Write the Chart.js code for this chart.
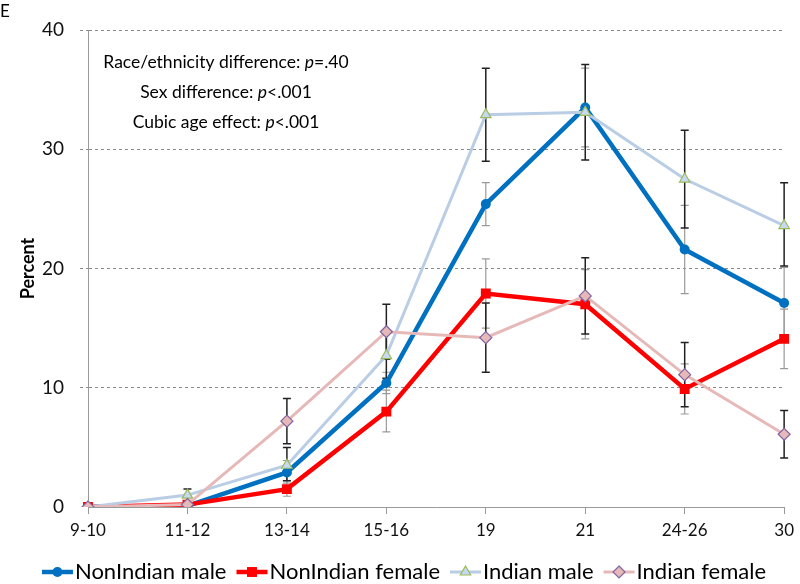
<!DOCTYPE html>
<html>
<head>
<meta charset="utf-8">
<script src="https://cdn.jsdelivr.net/npm/chart.js@4.4.1/dist/chart.umd.min.js"></script>
<style>
  body { margin: 0; background: #fff; }
  canvas { display: block; }
</style>
</head>
<body>
<canvas id="chart" width="800" height="584"></canvas>
<script>
// data
const ageGroups = ['9-10', '11-12', '13-14', '15-16', '19', '21', '24-26', '30'];
const yTicks = [0, 10, 20, 30, 40];

const nonIndianMale   = [0, 0.1, 2.9, 10.4, 25.4, 33.5, 21.6, 17.1];
const nonIndianFemale = [0, 0.2, 1.5, 8.0, 17.9, 17.0, 9.9, 14.1];
const indianMale      = [0, 1.0, 3.5, 12.7, 32.9, 33.1, 27.5, 23.6];
const indianFemale    = [0, 0.2, 7.2, 14.7, 14.2, 17.7, 11.1, 6.1];

// error bars, [low, high] per age group
const nonIndianMaleErr   = [null, null, [2.0, 3.9], [9.5, 11.3], [23.6, 27.2], [30.2, 36.8], [17.9, 25.3], [14.1, 20.1]];
const nonIndianFemaleErr = [null, null, [0.9, 2.2], [6.3, 9.8], [15.0, 20.8], [14.1, 19.9], [7.8, 12.0], [11.6, 16.6]];
const indianMaleErr      = [null, [0.4, 1.5], [2.2, 5.0], [10.8, 14.7], [29.0, 36.8], [29.1, 37.1], [23.4, 31.6], [20.2, 27.2]];
const indianFemaleErr    = [null, null, [5.3, 9.1], [12.4, 17.0], [11.3, 17.1], [14.5, 20.9], [8.4, 13.8], [4.1, 8.1]];

const statLines = [
    ['Race/ethnicity difference: ', 'p', '=.40'],
    ['Sex difference: ', 'p', '<.001'],
    ['Cubic age effect: ', 'p', '<.001'],
];

const FONT = 'Lato, "Open Sans", sans-serif';

// error bars under the lines
const errorBars = {
    id: 'errorBars',
    beforeDatasetsDraw(chart) {
        const ctx = chart.ctx;
        const y = chart.scales.y;
        chart.data.datasets.forEach((ds, i) => {
            const meta = chart.getDatasetMeta(i);
            ctx.save();
            ctx.strokeStyle = ds.errColor;
            ctx.lineWidth = ds.errWidth;
            ds.errors.forEach((e, j) => {
                if (!e) return;
                const x = meta.data[j].x;
                const y1 = y.getPixelForValue(e[0]);
                const y2 = y.getPixelForValue(e[1]);
                ctx.beginPath();
                ctx.moveTo(x, y1); ctx.lineTo(x, y2);
                ctx.moveTo(x - 4, y1); ctx.lineTo(x + 4, y1);
                ctx.moveTo(x - 4, y2); ctx.lineTo(x + 4, y2);
                ctx.stroke();
            });
            ctx.restore();
        });
    }
};

function drawMarker(ctx, style, x, y, r, fill, stroke, bw) {
    ctx.save();
    ctx.fillStyle = fill;
    ctx.strokeStyle = stroke;
    ctx.lineWidth = bw;
    ctx.beginPath();
    if (style === 'circle') {
        ctx.arc(x, y, r, 0, Math.PI * 2);
    } else if (style === 'rect') {
        ctx.rect(x - r * 0.71, y - r * 0.71, r * 1.42, r * 1.42);
    } else if (style === 'triangle') {
        ctx.moveTo(x, y - r);
        ctx.lineTo(x + r * 0.87, y + r * 0.5);
        ctx.lineTo(x - r * 0.87, y + r * 0.5);
        ctx.closePath();
    } else {
        ctx.moveTo(x, y - r); ctx.lineTo(x + r, y);
        ctx.lineTo(x, y + r); ctx.lineTo(x - r, y);
        ctx.closePath();
    }
    ctx.fill();
    if (bw) ctx.stroke();
    ctx.restore();
}

// panel letter, stats text and legend
const extras = {
    id: 'extras',
    afterDraw(chart) {
        const ctx = chart.ctx;
        ctx.save();
        ctx.fillStyle = '#000';
        ctx.textBaseline = 'middle';
        ctx.font = '17px ' + FONT;
        ctx.fillText('E', 0, 12);

        // stats, centered
        const cx = 226;
        const fs = '17.5px ';
        statLines.forEach((parts, k) => {
            const yy = 62 + k * 30;
            ctx.font = fs + FONT;
            const w0 = ctx.measureText(parts[0]).width;
            const w2 = ctx.measureText(parts[2]).width;
            ctx.font = 'italic ' + fs + FONT;
            const w1 = ctx.measureText(parts[1]).width;
            let x = cx - (w0 + w1 + w2) / 2;
            ctx.font = fs + FONT;
            ctx.fillText(parts[0], x, yy); x += w0;
            ctx.font = 'italic ' + fs + FONT;
            ctx.fillText(parts[1], x, yy); x += w1;
            ctx.font = fs + FONT;
            ctx.fillText(parts[2], x, yy);
        });

        // legend
        ctx.font = '22px ' + FONT;
        const ly = 572;
        const seg = 31, gap = 2, itemGap = 10;
        const dss = chart.data.datasets;
        const widths = dss.map(ds => seg + gap + ctx.measureText(ds.label).width);
        const total = widths.reduce((a, b) => a + b, 0) + itemGap * (dss.length - 1);
        let x = 404 - total / 2;
        dss.forEach((ds, i) => {
            ctx.save();
            ctx.strokeStyle = ds.borderColor;
            ctx.lineWidth = ds.borderWidth;
            ctx.beginPath();
            ctx.moveTo(x, ly); ctx.lineTo(x + seg, ly);
            ctx.stroke();
            ctx.restore();
            drawMarker(ctx, ds.pointStyle, x + seg / 2, ly, ds.pointRadius,
                ds.pointBackgroundColor, ds.pointBorderColor, ds.pointBorderWidth);
            ctx.fillStyle = '#000';
            ctx.fillText(ds.label, x + seg + gap, ly);
            x += widths[i] + itemGap;
        });
        ctx.restore();
    }
};

const ctx = document.getElementById('chart').getContext('2d');

const data = {
    labels: ageGroups,
    datasets: [
        {
            label: 'NonIndian male',
            data: nonIndianMale,
            errors: nonIndianMaleErr,
            errColor: '#9a9a9a',
            errWidth: 1.2,
            borderColor: '#0070C0',
            borderWidth: 4.5,
            pointStyle: 'circle',
            pointRadius: 5,
            pointBackgroundColor: '#0070C0',
            pointBorderColor: '#0070C0',
            pointBorderWidth: 0,
            order: 4,
        },
        {
            label: 'NonIndian female',
            data: nonIndianFemale,
            errors: nonIndianFemaleErr,
            errColor: '#9a9a9a',
            errWidth: 1.2,
            borderColor: '#FF0000',
            borderWidth: 4.5,
            pointStyle: 'rect',
            pointRadius: 7,
            pointBackgroundColor: '#FF0000',
            pointBorderColor: '#FF0000',
            pointBorderWidth: 0,
            order: 3,
        },
        {
            label: 'Indian male',
            data: indianMale,
            errors: indianMaleErr,
            errColor: '#222',
            errWidth: 1.5,
            borderColor: '#B9CDE5',
            borderWidth: 3,
            pointStyle: 'triangle',
            pointRadius: 6,
            pointBackgroundColor: '#C6D9F1',
            pointBorderColor: '#9BBB59',
            pointBorderWidth: 1.2,
            order: 2,
        },
        {
            label: 'Indian female',
            data: indianFemale,
            errors: indianFemaleErr,
            errColor: '#222',
            errWidth: 1.5,
            borderColor: '#E6B9B8',
            borderWidth: 3,
            pointStyle: 'rectRot',
            pointRadius: 6,
            pointBackgroundColor: '#E6B9B8',
            pointBorderColor: '#8064A2',
            pointBorderWidth: 1.2,
            order: 1,
        },
    ],
};

const config = {
    type: 'line',
    data: data,
    options: {
        responsive: false,
        animation: false,
        layout: { padding: { left: 0, right: 11, top: 30, bottom: 37 } },
        elements: { line: { tension: 0 } },
        plugins: {
            legend: { display: false },
            tooltip: { enabled: false },
        },
        scales: {
            x: {
                offset: false,
                grid: { drawOnChartArea: false, drawTicks: true, tickLength: 7, color: '#9a9a9a' },
                border: { color: '#9a9a9a', width: 1 },
                ticks: { font: { family: FONT, size: 17 }, color: '#111', padding: 6, maxRotation: 0 },
                afterFit: s => { s.height = 40; },
            },
            y: {
                min: 0,
                max: 40,
                afterBuildTicks: s => { s.ticks = yTicks.map(v => ({ value: v })); },
                grid: {
                    color: c => (c.tick && c.tick.value === 0 ? 'rgba(0,0,0,0)' : '#8a8a8a'),
                    tickLength: 8,
                    tickBorderDash: [3, 3],
                },
                border: { color: '#9a9a9a', width: 1, dash: [3, 3] },
                ticks: { font: { family: FONT, size: 19 }, color: '#111', padding: 16 },
                title: {
                    display: true,
                    text: 'Percent',
                    font: { family: FONT, size: 18, weight: 'bold' },
                    color: '#000',
                    padding: { top: 17, bottom: 0 },
                },
                afterFit: s => { s.width = 88; },
            },
        },
    },
    plugins: [errorBars, extras],
};

const myChart = new Chart(ctx, config);
</script>
</body>
</html>
